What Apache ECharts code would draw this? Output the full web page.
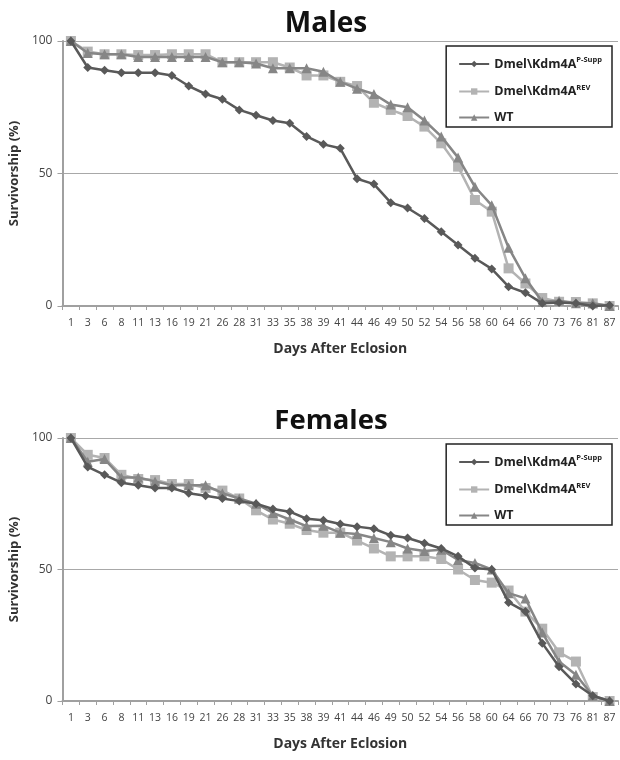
<!DOCTYPE html>
<html>
<head>
<meta charset="utf-8">
<script src="https://cdn.jsdelivr.net/npm/echarts@6/dist/echarts.min.js"></script>
<style>html,body{margin:0;padding:0;background:#fff;}#c{width:620px;height:760px;}</style>
</head>
<body>
<div id="c"></div>
<script>
var days = ['1','3','6','8','11','13','16','19','21','26','28','31','33','35','38','39','41','44','46','49','50','52','54','56','58','60','64','66','70','73','76','81','87'];
var seriesNames = ['Dmel\\Kdm4A P-Supp', 'Dmel\\Kdm4A REV', 'WT'];

var malePSupp = [100,90,89,88,88,88,87,83,80,78,74,72,70,69,64,61,59.5,48,46,39,37,33,28,23,18,14,7.3,5,1,1.3,1,0,0.3];
var maleREV   = [100,96,95,95,94.7,94.7,95,95,95,92,92,92,92,90,87,87,84.6,83,76.7,74,71.7,67.7,61.4,52.6,40,35.6,14.2,8.5,3,1.6,1.5,1,0];
var maleWT    = [100,95.5,95,95,94,94,94,94,94,92,92,91.5,89.7,89.7,89.7,88.4,84.6,82,80,76,75,70,64,56,45,38,22,10.5,1.6,2,1,1,0];

var femalePSupp = [100,89,86,83,82,81,81,79,78,77,76,75,73,72,69.3,68.7,67.3,66.3,65.5,63,62,60,58,55,50.6,50,37.5,34,22,13,6.5,2,0];
var femaleREV   = [100,93.6,92.4,86,84.4,84,82.5,82.5,81,80,77,72.5,69,67.4,65,64,64,61,58,55,55,55,54,50,46,45,42,34,27.5,18.5,15,1.5,0];
var femaleWT    = [100,91,92,85,85,83.5,82,82,82,79,77,75,71.5,69,66.5,66.6,64,63.5,62,60.4,58,57,57.5,53.6,52.5,50,41,39,26,15,10,2,0];

var colors = ['#595959', '#b3b3b3', '#868686'];
var symbols = ['diamond', 'rect', 'triangle'];
var symbolSizes = [9, 10, 10];
var fontFam = '"Open Sans", "DejaVu Sans", sans-serif';

function grid(top, height) {
  return { left: 62, right: 2, top: top, height: height, containLabel: false };
}
function xAxis(idx) {
  return {
    type: 'category', gridIndex: idx, data: days, boundaryGap: true,
    name: 'Days After Eclosion', nameLocation: 'middle', nameGap: 36,
    nameTextStyle: { fontFamily: fontFam, fontWeight: 'bold', fontSize: 14, color: '#333' },
    axisLine: { lineStyle: { color: '#a0a0a0', width: 2 } },
    axisTick: { show: true, length: 4, alignWithLabel: false, interval: 0, lineStyle: { color: '#a0a0a0' } },
    axisLabel: { interval: 0, fontFamily: fontFam, fontSize: 10.5, color: '#444', margin: 12 },
    splitLine: { show: false }
  };
}
function yAxis(idx) {
  return {
    type: 'value', gridIndex: idx, min: 0, max: 100, interval: 50,
    name: 'Survivorship (%)', nameLocation: 'middle', nameGap: 36,
    nameTextStyle: { fontFamily: fontFam, fontWeight: 'bold', fontSize: 13, color: '#333' },
    axisLine: { show: true, lineStyle: { color: '#a0a0a0', width: 2 } },
    axisTick: { show: true, length: 5, lineStyle: { color: '#a0a0a0' } },
    axisLabel: { fontFamily: fontFam, fontSize: 12, color: '#444', margin: 10 },
    splitLine: { show: true, lineStyle: { color: '#a8a8a8', width: 1.2 } }
  };
}
function legend(top) {
  return {
    data: seriesNames, orient: 'vertical', right: 8, top: top,
    borderColor: '#222', borderWidth: 1.5, padding: [10, 10, 3, 12],
    itemGap: 13, itemWidth: 30, itemHeight: 8,
    formatter: function (n) {
      if (n.indexOf('P-Supp') >= 0) return '{a|Dmel\\Kdm4A}{s|P-Supp}';
      if (n.indexOf('REV') >= 0) return '{a|Dmel\\Kdm4A}{s|REV}';
      return '{a|WT}';
    },
    textStyle: {
      rich: {
        a: { fontFamily: fontFam, fontWeight: 'bold', fontSize: 12.5, color: '#222', lineHeight: 16 },
        s: { fontFamily: fontFam, fontWeight: 'bold', fontSize: 7.5, color: '#222', verticalAlign: 'top', lineHeight: 16, padding: [0, 0, 6, 0] }
      }
    }
  };
}
function mkSeries(i, data, gi, z) {
  return {
    name: seriesNames[i], type: 'line', xAxisIndex: gi, yAxisIndex: gi, data: data,
    symbol: symbols[i], symbolSize: symbolSizes[i], z: z,
    lineStyle: { color: colors[i], width: 2.5 },
    itemStyle: { color: colors[i] },
    emphasis: { disabled: true }, animation: false
  };
}

var chart = echarts.init(document.getElementById('c'), null, { renderer: 'canvas' });
chart.setOption({
  animation: false,
  backgroundColor: '#fff',
  title: [
    { text: 'Males', left: 321, textAlign: 'center', top: 5, textStyle: { fontFamily: fontFam, fontWeight: 'bold', fontSize: 28, color: '#111' } },
    { text: 'Females', left: 326, textAlign: 'center', top: 402, textStyle: { fontFamily: fontFam, fontWeight: 'bold', fontSize: 27.5, color: '#111' } }
  ],
  legend: [legend(46), legend(444)],
  grid: [grid(41, 265), grid(438, 263)],
  xAxis: [xAxis(0), xAxis(1)],
  yAxis: [yAxis(0), yAxis(1)],
  series: [
    mkSeries(0, malePSupp, 0, 4),
    mkSeries(1, maleREV, 0, 2),
    mkSeries(2, maleWT, 0, 3),
    mkSeries(0, femalePSupp, 1, 4),
    mkSeries(1, femaleREV, 1, 2),
    mkSeries(2, femaleWT, 1, 3)
  ]
});
</script>
</body>
</html>
